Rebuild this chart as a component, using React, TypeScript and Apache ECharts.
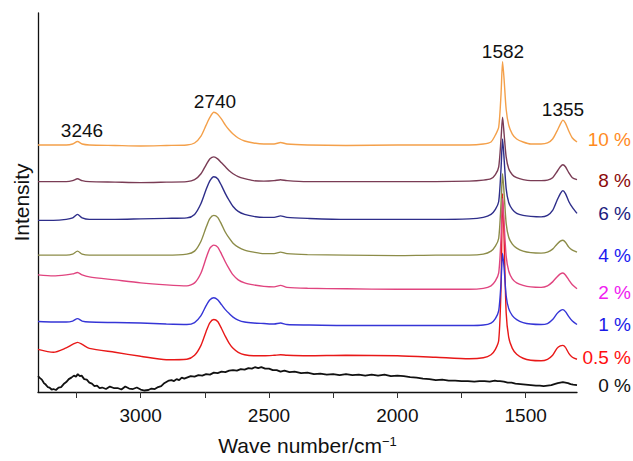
import React, { useEffect, useRef } from "react";
import * as echarts from "echarts";

// Raman shift (cm^-1) sampling used for the doped spectra
const wavenumbers = [
  3400, 3340, 3290, 3265, 3246, 3228, 3200, 3100, 3000, 2900,
  2820, 2790, 2765, 2745, 2730, 2715, 2700, 2685, 2670, 2655,
  2640, 2620, 2595, 2560, 2520, 2480, 2455, 2430, 2350, 2200,
  2000, 1850, 1720, 1665, 1635, 1618, 1605, 1596, 1590, 1584,
  1576, 1566, 1552, 1535, 1510, 1480, 1440, 1415, 1395, 1378,
  1365, 1355, 1345, 1332, 1318, 1300,
];

// Intensities (a.u., stacked with offsets as in the figure)
const s10 = [
  249, 249, 249, 250, 252.5, 250, 249, 248.5, 248, 248.5,
  249, 251, 258, 269, 277, 282, 280, 275, 269, 264,
  260, 256, 253, 251, 250, 250, 251.5, 250, 249, 248.5,
  249, 249, 249, 250, 252, 259, 267, 300, 333, 315,
  285, 269, 260, 255, 252, 250, 250, 251, 255, 263,
  270, 274, 271, 263, 256, 252,
];
const s8 = [
  212, 212, 212, 213, 215, 213, 212, 211.5, 211, 211.5,
  212, 214, 220, 229, 235, 237, 235, 231, 227, 223,
  220, 217, 215, 213, 212.5, 213, 214, 213, 212, 212,
  212, 212, 212.5, 213.5, 215, 219, 227, 255, 277, 260,
  237, 225, 219, 216, 214, 213, 213, 213.5, 216, 222,
  227, 229, 227, 221, 216, 214,
];
const s6 = [
  173, 173, 174, 175.5, 179, 175.5, 174, 174, 174.5, 175,
  175.5, 179, 190, 204, 213, 217, 215, 208, 200, 193,
  187, 182, 179, 177, 176, 176, 177.5, 176, 175, 174,
  174, 174, 174.5, 176, 179, 184, 192, 225, 255, 235,
  205, 191, 184, 180, 178, 177, 176.5, 178, 183, 193,
  200, 203, 200, 192, 186, 180,
];
const s4 = [
  138, 138, 138, 139, 142, 139, 138, 138, 138, 138,
  139, 142, 152, 166, 175, 178, 176, 169, 161, 155,
  150, 146, 143, 141, 139.5, 139.5, 141, 139.5, 138.5, 138,
  137.5, 138, 138, 139, 142, 147, 155, 190, 220, 200,
  170, 156, 149, 145, 142, 140.5, 140, 141, 144, 149,
  152, 153, 151, 146, 143, 141,
];
const s2 = [
  118, 117, 118, 119, 120.5, 118, 116, 113, 110, 108,
  107, 110, 120, 135, 145, 148, 146, 139, 131, 124,
  118, 113, 110, 108, 106.5, 106, 107.5, 105.5, 104.5, 104,
  103.5, 103.5, 103.5, 104.5, 107, 112, 120, 155, 195, 170,
  137, 122, 114, 110, 107.5, 106, 105.5, 107, 111, 116,
  119, 120, 118, 113, 108, 104,
];
const s1 = [
  71, 70.5, 70.5, 71.5, 74, 71.5, 70.5, 70, 69.5, 68.5,
  68, 70, 77, 87, 93, 95, 93, 88, 83, 79,
  75.5, 72.5, 70.5, 69.5, 69, 68.5, 69.5, 68, 67.5, 67,
  67, 67, 67, 67.5, 69.5, 74, 82, 110, 140, 125,
  97, 84, 77, 73, 70, 68.5, 68, 69, 73, 79,
  82, 83, 81, 76, 71.5, 68,
];
const s05 = [
  43, 40, 44.5, 48, 50, 48, 44, 40, 36, 32.5,
  33, 37, 47, 61, 70, 73, 71, 64, 56, 49,
  44, 40, 37.5, 36.5, 36.5, 37, 37.5, 37, 36.5, 37,
  36.5, 35, 33.5, 34.5, 37.5, 43, 52, 105, 200, 155,
  80, 55, 44, 38, 34, 32, 31.5, 33, 37, 44,
  46.5, 47, 45, 39, 35, 33,
];

// Undoped spectrum (0 %) has its own, denser sampling (noisy trace)
const wavenumbers0 = [
  3400, 3392, 3385, 3377, 3370, 3362, 3355, 3347, 3340, 3330,
  3320, 3310, 3300, 3290, 3280, 3270, 3260, 3252, 3245, 3237,
  3230, 3220, 3210, 3200, 3190, 3180, 3170, 3160, 3150, 3135,
  3120, 3105, 3090, 3075, 3060, 3045, 3030, 3015, 3000, 2985,
  2970, 2958, 2945, 2932, 2920, 2910, 2900, 2890, 2880, 2870,
  2860, 2850, 2840, 2830, 2820, 2805, 2790, 2775, 2760, 2745,
  2730, 2715, 2700, 2685, 2670, 2655, 2640, 2625, 2610, 2595,
  2580, 2567, 2555, 2542, 2530, 2515, 2500, 2485, 2470, 2455,
  2440, 2420, 2400, 2375, 2350, 2325, 2300, 2275, 2250, 2225,
  2200, 2175, 2150, 2125, 2100, 2075, 2050, 2025, 2000, 1975,
  1950, 1925, 1900, 1875, 1850, 1825, 1800, 1775, 1750, 1725,
  1700, 1680, 1660, 1640, 1620, 1610, 1600, 1585, 1570, 1555,
  1540, 1520, 1500, 1480, 1460, 1445, 1430, 1415, 1400, 1388,
  1375, 1365, 1355, 1345, 1335, 1325, 1315, 1300,
];
const s0 = [
  16, 14, 12.5, 9, 7.5, 5, 4.5, 2.5, 3, 2,
  4.5, 5, 8, 10, 13, 14.5, 16.5, 15.5, 18, 16,
  16.5, 13, 12.5, 9.5, 8.5, 6, 6.5, 4, 4.5, 3,
  5.5, 4, 4, 2.5, 5.5, 3.5, 3, 4.5, 2.5, 1.5,
  2, 3.5, 3, 5, 6, 8.5, 10, 11.5, 12, 11,
  13, 12, 14.5, 13.5, 14.5, 16, 15.5, 17, 16.5, 18,
  17.5, 19.5, 19, 20.5, 20, 21.5, 22, 21.5, 23, 22.5,
  24, 23.5, 25, 24, 25, 23.5, 23.5, 22, 22, 20.5,
  21.5, 20, 20.5, 19, 19.5, 18, 18.5, 17.5, 18, 17,
  18, 17, 17.5, 16.5, 17.5, 16.5, 17.5, 16, 16.5, 16,
  15, 14.5, 13.5, 13, 12, 12.5, 11.5, 11.5, 11, 11,
  10.5, 11, 11, 10.5, 11.5, 11, 11, 10.5, 9.5, 9.5,
  8.5, 8, 7.5, 7, 6.5, 6.5, 6, 6.5, 7, 8,
  9, 9.5, 10, 9.5, 9, 8, 7.5, 7,
];

const seriesNames = ["0 %", "0.5 %", "1 %", "2 %", "4 %", "6 %", "8 %", "10 %"];
const seriesValues = [s0, s05, s1, s2, s4, s6, s8, s10];
const lineColors = ["#111111", "#e81818", "#3535d6", "#e0447f", "#8c8c48", "#2e2e8a", "#7a3c55", "#f4a04a"];
const labelColors = ["#111111", "#ff1010", "#1a1ae8", "#f020f0", "#1a1af0", "#1c1c7e", "#8b0a0a", "#ff8a1e"];
const peakLabels = ["3246", "2740", "1582", "1355"];
const xTickValues = [3250, 3000, 2750, 2500, 2250, 2000, 1750, 1500];
const xLabelValues = [3000, 2500, 2000, 1500];

const FONT = '"Liberation Sans", Arial, Helvetica, sans-serif';

export default function App() {
  const ref = useRef<HTMLDivElement>(null);

  useEffect(() => {
    const chart = echarts.init(ref.current!, null, { renderer: "svg" });

    const series = seriesNames.map((name, k) => {
      const xs = k === 0 ? wavenumbers0 : wavenumbers;
      return {
        name,
        type: "line",
        data: xs.map((w, i) => [w, seriesValues[k][i]]),
        showSymbol: false,
        smooth: k === 0 ? false : 0.25,
        lineStyle: { color: lineColors[k], width: k === 0 ? 1.8 : 1.4 },
        itemStyle: { color: lineColors[k] },
        z: 2 + k,
      };
    });

    // layout positions for text annotations
    const labelY = [385, 357, 324, 292, 255, 213, 180, 139];
    const peakPos = [
      [82, 130],
      [215, 101],
      [503, 51],
      [563, 109],
    ];

    const graphic: any[] = [];
    seriesNames.forEach((name, k) => {
      graphic.push({
        type: "text",
        x: 631,
        y: labelY[k],
        style: {
          text: name,
          fill: labelColors[k],
          font: `19px ${FONT}`,
          align: "right",
          verticalAlign: "middle",
          textAlign: "right",
          textVerticalAlign: "middle",
        },
      });
    });
    peakLabels.forEach((t, k) => {
      graphic.push({
        type: "text",
        x: peakPos[k][0],
        y: peakPos[k][1],
        style: {
          text: t,
          fill: "#111111",
          font: `19px ${FONT}`,
          align: "center",
          verticalAlign: "middle",
          textAlign: "center",
          textVerticalAlign: "middle",
        },
      });
    });

    chart.setOption({
      animation: false,
      backgroundColor: "#ffffff",
      textStyle: { fontFamily: FONT },
      grid: { left: 38, right: 56, top: 13, bottom: 66, containLabel: false },
      xAxis: {
        type: "value",
        min: 1300,
        max: 3400,
        inverse: true,
        name: "Wave number/cm{sup|\u22121}",
        nameLocation: "middle",
        nameGap: 43,
        nameTextStyle: {
          fontSize: 21,
          color: "#111111",
          fontFamily: FONT,
          rich: {
            sup: { fontSize: 13, verticalAlign: "top", color: "#111111", fontFamily: FONT },
          },
        },
        axisLine: { show: true, lineStyle: { color: "#111111", width: 1.3 } },
        axisTick: {
          show: true,
          inside: false,
          length: 6,
          customValues: xTickValues,
          lineStyle: { color: "#333333", width: 1 },
        },
        axisLabel: {
          customValues: xLabelValues,
          formatter: (v: number) => String(v),
          fontSize: 19,
          color: "#111111",
          margin: 14,
          fontFamily: FONT,
        },
        splitLine: { show: false },
      },
      yAxis: {
        type: "value",
        min: 0,
        max: 382,
        name: "Intensity",
        nameLocation: "middle",
        nameGap: 6,
        nameTextStyle: { fontSize: 21, color: "#111111", fontFamily: FONT },
        axisLine: { show: true, lineStyle: { color: "#111111", width: 1.3 } },
        axisTick: { show: false },
        axisLabel: { show: false },
        splitLine: { show: false },
      },
      series,
      graphic,
    });

    return () => chart.dispose();
  }, []);

  return (
    <div
      ref={ref}
      style={{ position: "fixed", left: 0, top: 0, width: 633, height: 461, background: "#fff" }}
    />
  );
}
